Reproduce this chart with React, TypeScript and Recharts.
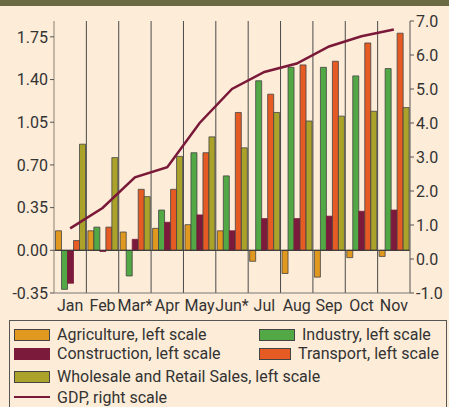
import {
	Bar,
	CartesianGrid,
	ComposedChart,
	Line,
	ReferenceLine,
	XAxis,
	YAxis,
} from "recharts";

const months = ["Jan", "Feb", "Mar*", "Apr", "May", "Jun*", "Jul", "Aug", "Sep", "Oct", "Nov"];
const agriculture = [0.16, 0.16, 0.15, 0.18, 0.21, 0.16, -0.09, -0.19, -0.22, -0.06, -0.05];
const industry = [-0.32, 0.19, -0.21, 0.33, 0.8, 0.61, 1.39, 1.5, 1.5, 1.43, 1.49];
const construction = [-0.27, -0.01, 0.09, 0.23, 0.29, 0.16, 0.26, 0.26, 0.28, 0.32, 0.33];
const transport = [0.08, 0.19, 0.5, 0.5, 0.8, 1.13, 1.28, 1.52, 1.55, 1.7, 1.78];
const wholesale = [0.87, 0.76, 0.44, 0.77, 0.93, 0.84, 1.13, 1.06, 1.1, 1.14, 1.17];
const gdp = [0.9, 1.5, 2.4, 2.7, 4.0, 5.0, 5.5, 5.75, 6.25, 6.55, 6.75];

const leftTicks = [-0.35, 0, 0.35, 0.7, 1.05, 1.4, 1.75];
const rightTicks = [-1, 0, 1, 2, 3, 4, 5, 6, 7];

const BG = "#fdecd8";
const FONT = "Roboto, sans-serif";

const series = [
	{ key: "agriculture", label: "Agriculture, left scale", color: "#e0981f", outline: true },
	{ key: "industry", label: "Industry, left scale", color: "#52a844", outline: true },
	{ key: "construction", label: "Construction, left scale", color: "#7b1a3a", outline: false },
	{ key: "transport", label: "Transport, left scale", color: "#e65a24", outline: true },
	{ key: "wholesale", label: "Wholesale and Retail Sales, left scale", color: "#aba22a", outline: true },
];

const chartData = months.map((month, i) => ({
	month,
	agriculture: agriculture[i],
	industry: industry[i],
	construction: construction[i],
	transport: transport[i],
	wholesale: wholesale[i],
	gdp: gdp[i],
}));

const tickStyle = { fontSize: 16, fill: "#333", fontFamily: FONT };

function Swatch({ color, outline }: { color: string; outline: boolean }) {
	return (
		<span
			style={{
				display: "inline-block",
				width: 36,
				height: 12,
				background: color,
				border: outline ? "1px solid #444" : `1px solid ${color}`,
				boxSizing: "border-box",
				marginRight: 7,
				verticalAlign: "middle",
			}}
		/>
	);
}

function LegendItem({ s, width }: { s: (typeof series)[number]; width: number }) {
	return (
		<div style={{ width, display: "flex", alignItems: "center", height: 19, whiteSpace: "nowrap" }}>
			<Swatch color={s.color} outline={s.outline} />
			<span style={{ lineHeight: "17px" }}>{s.label}</span>
		</div>
	);
}

export default function App() {
	return (
		<div
			style={{
				position: "absolute",
				left: 0,
				top: 0,
				width: 449,
				height: 407,
				background: BG,
				overflow: "hidden",
				fontFamily: FONT,
			}}
		>
			<div style={{ height: 6, background: "#6b6a42" }} />
			<div style={{ position: "absolute", left: 0, top: 0 }}>
				<ComposedChart
					width={449}
					height={320}
					data={chartData}
					margin={{ top: 21, right: 0, bottom: 7, left: 0 }}
					barCategoryGap={1.5}
					barGap={0}
				>
					<CartesianGrid
						horizontal={false}
						stroke="#4a4a4a"
						strokeWidth={1}
						verticalCoordinatesGenerator={({ offset }: any) =>
							months
								.slice(1)
								.map((_, i) => offset.left + (offset.width * (i + 1)) / months.length)
						}
					/>
					<XAxis
						dataKey="month"
						interval={0}
						tickLine={false}
						tickSize={3}
						tickMargin={4}
						height={20}
						axisLine={{ stroke: "#777" }}
						tick={tickStyle}
					/>
					<XAxis
						xAxisId="top"
						dataKey="month"
						orientation="top"
						height={0}
						tick={false}
						tickLine={false}
						axisLine={{ stroke: "#777" }}
					/>
					<YAxis
						yAxisId="left"
						width={54}
						domain={[-0.35, 1.88]}
						ticks={leftTicks}
						tickFormatter={(v: number) => v.toFixed(2)}
						tickSize={4}
						tick={tickStyle}
						axisLine={{ stroke: "#8a8070" }}
						tickLine={{ stroke: "#555" }}
						allowDataOverflow
					/>
					<YAxis
						yAxisId="right"
						orientation="right"
						width={39}
						domain={[-1, 7]}
						ticks={rightTicks}
						tickFormatter={(v: number) => v.toFixed(1)}
						tickSize={4}
						tick={tickStyle}
						axisLine={{ stroke: "#555" }}
						tickLine={{ stroke: "#555" }}
					/>
					<ReferenceLine yAxisId="left" y={0} stroke="#333" strokeWidth={1} />
					{series.map((s) => (
						<Bar
							key={s.key}
							yAxisId="left"
							dataKey={s.key}
							fill={s.color}
							stroke={s.outline ? "#444" : s.color}
							strokeWidth={0.8}
							isAnimationActive={false}
						/>
					))}
					<Line
						yAxisId="right"
						type="linear"
						dataKey="gdp"
						stroke="#7a1838"
						strokeWidth={2.5}
						dot={false}
						isAnimationActive={false}
					/>
				</ComposedChart>
			</div>
			<div
				style={{
					position: "absolute",
					left: 9,
					top: 320,
					width: 438,
					height: 100,
					border: "1px solid #555",
					boxSizing: "border-box",
					padding: "4px 0 0 4px",
					fontSize: 16,
					color: "#333",
				}}
			>
				<div style={{ display: "flex" }}>
					<LegendItem s={series[0]} width={245} />
					<LegendItem s={series[1]} width={180} />
				</div>
				<div style={{ display: "flex" }}>
					<LegendItem s={series[2]} width={245} />
					<LegendItem s={series[3]} width={180} />
				</div>
				<div style={{ display: "flex", marginTop: 4 }}>
					<LegendItem s={series[4]} width={400} />
				</div>
				<div style={{ display: "flex", alignItems: "center", height: 22 }}>
					<span
						style={{
							display: "inline-block",
							width: 36,
							height: 2,
							background: "#7a1838",
							marginRight: 7,
						}}
					/>
					<span style={{ lineHeight: "17px" }}>GDP, right scale</span>
				</div>
			</div>
		</div>
	);
}
